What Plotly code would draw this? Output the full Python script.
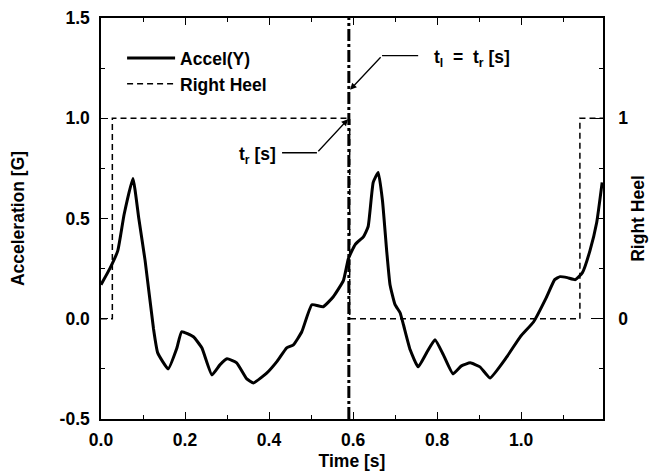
import plotly.graph_objects as go

# ---- data ----
time_accel = [0.0, 0.021, 0.04, 0.055, 0.076, 0.09, 0.105, 0.125, 0.135, 0.16, 0.18, 0.192,
              0.22, 0.24, 0.264, 0.283, 0.30, 0.323, 0.347, 0.363, 0.395, 0.42, 0.442, 0.458,
              0.478, 0.502, 0.529, 0.553, 0.577, 0.589, 0.605, 0.625, 0.636, 0.648, 0.66,
              0.67, 0.68, 0.688, 0.70, 0.712, 0.72, 0.736, 0.755, 0.775, 0.795, 0.815, 0.838,
              0.858, 0.879, 0.902, 0.926, 0.966, 0.998, 1.03, 1.06, 1.08, 1.093, 1.11, 1.129,
              1.146, 1.164, 1.18, 1.193]
accel_y = [0.17, 0.25, 0.34, 0.52, 0.70, 0.50, 0.29, -0.05, -0.17, -0.25, -0.15, -0.065,
           -0.09, -0.145, -0.28, -0.23, -0.20, -0.22, -0.30, -0.32, -0.27, -0.21, -0.145, -0.13,
           -0.065, 0.07, 0.06, 0.11, 0.19, 0.30, 0.37, 0.41, 0.46, 0.68, 0.73,
           0.59, 0.34, 0.17, 0.07, 0.03, -0.03, -0.155, -0.24, -0.17, -0.105, -0.18, -0.275,
           -0.235, -0.22, -0.24, -0.295, -0.19, -0.09, -0.015, 0.105, 0.195, 0.21, 0.205, 0.195,
           0.23, 0.34, 0.48, 0.68]

time_heel = [0.0, 0.027, 0.592, 1.14, 1.195]
right_heel = [0, 1, 0, 1, 1]

t_r = 0.59

x_ticks = [0.0, 0.2, 0.4, 0.6, 0.8, 1.0]
x_ticklabels = ["0.0", "0.2", "0.4", "0.6", "0.8", "1.0"]
y_ticks = [-0.5, 0.0, 0.5, 1.0, 1.5]
y_ticklabels = ["-0.5", "0.0", "0.5", "1.0", "1.5"]
y2_ticks = [0, 1]
y2_ticklabels = ["0", "1"]

FONT = "Liberation Sans, Arial, sans-serif"
FS = 17.5


def fnt(size=FS):
    return dict(family=FONT, size=size, color="black", weight="bold")


fig = go.Figure()
fig.add_trace(go.Scatter(x=time_accel, y=accel_y, mode="lines", name="Accel(Y)",
                         line=dict(color="black", width=3, shape="spline", smoothing=0.4)))
fig.add_trace(go.Scatter(x=time_heel, y=right_heel, mode="lines", name="Right Heel",
                         yaxis="y2", line=dict(color="black", width=1.5, dash="6px,4px", shape="hv")))

# vertical dash-dot marker at t_r
fig.add_shape(type="line", x0=t_r, x1=t_r, y0=0, y1=1, xref="x", yref="paper",
              line=dict(color="black", width=3, dash="12px,3px,3px,3px"))

# leader lines
fig.add_shape(type="line", x0=0.669, x1=0.755, y0=1.312, y1=1.312, xref="x", yref="y",
              line=dict(color="black", width=1.3))
fig.add_annotation(x=t_r + 0.003, y=1.142, ax=0.669, ay=1.312, xref="x", yref="y",
                   axref="x", ayref="y", text="", showarrow=True, arrowhead=2,
                   arrowsize=1, arrowwidth=1.3, arrowcolor="black")
fig.add_annotation(x=0.787, y=1.3, xref="x", yref="y", xanchor="left", yanchor="middle",
                   text="t<sub>l</sub>  =  t<sub>r</sub> [s]", showarrow=False, font=fnt())

fig.add_shape(type="line", x0=0.431, x1=0.514, y0=0.828, y1=0.828, xref="x", yref="y",
              line=dict(color="black", width=1.3))
fig.add_annotation(x=t_r - 0.002, y=0.995, ax=0.514, ay=0.828, xref="x", yref="y",
                   axref="x", ayref="y", text="", showarrow=True, arrowhead=2,
                   arrowsize=1, arrowwidth=1.3, arrowcolor="black")
fig.add_annotation(x=0.421, y=0.815, xref="x", yref="y", xanchor="right", yanchor="middle",
                   text="t<sub>r</sub> [s]", showarrow=False, font=fnt())

axis_common = dict(showline=True, linecolor="black", linewidth=1.5, showgrid=False,
                   zeroline=False, ticks="inside", tickcolor="black", automargin=False,
                   tickfont=fnt())

fig.update_layout(
    width=650, height=476,
    margin=dict(l=101, r=47, t=18, b=57, pad=0),
    paper_bgcolor="white", plot_bgcolor="white",
    font=fnt(),
    showlegend=True,
    legend=dict(x=0.042, y=0.945, xanchor="left", yanchor="top", bgcolor="rgba(0,0,0,0)",
                font=fnt(), itemwidth=48),
    xaxis=dict(range=[0, 1.195], tickvals=x_ticks, ticktext=x_ticklabels, ticklen=7,
               mirror="ticks", ticklabelstandoff=4,
               minor=dict(dtick=0.1, tick0=0, ticks="inside", ticklen=4, tickcolor="black"),
               title=dict(text="Time [s]", font=fnt(), standoff=6),
               **axis_common),
    yaxis=dict(range=[-0.5, 1.5], tickvals=y_ticks, ticktext=y_ticklabels, ticklen=7,
               mirror="ticks", ticklabelstandoff=6,
               minor=dict(dtick=0.25, tick0=0, ticks="inside", ticklen=4, tickcolor="black"),
               title=dict(text="Acceleration [G]", font=fnt(), standoff=30),
               **axis_common),
    yaxis2=dict(range=[-0.5, 1.5], overlaying="y", side="right", tickvals=y2_ticks,
                ticktext=y2_ticklabels, ticklen=12, ticklabelstandoff=10,
                title=dict(text="Right Heel", font=fnt(), standoff=4),
                **axis_common),
)

fig.write_html("out.html", config={"displayModeBar": False},
               post_script="document.body.style.margin='0';document.body.style.overflow='hidden';")
